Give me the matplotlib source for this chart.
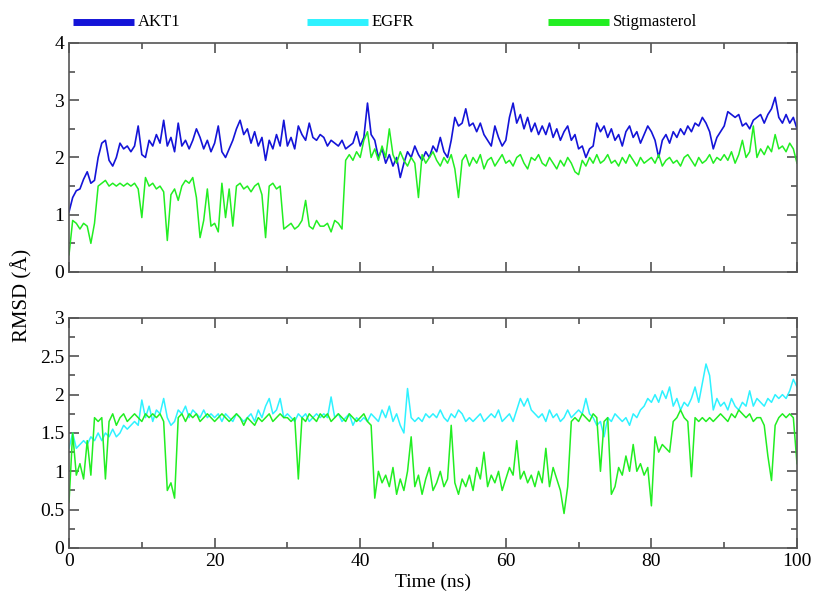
import numpy as np
import matplotlib
matplotlib.use("Agg")
import matplotlib.pyplot as plt
from matplotlib.lines import Line2D
from matplotlib.ticker import MultipleLocator

plt.rcParams['font.family'] = ['Liberation Serif', 'DejaVu Serif']

# time axis, one sample every 0.5 ns
time_ns = np.arange(0, 100.5, 0.5)

# top panel: AKT1 complex
akt1 = [
    1.05, 1.3, 1.42, 1.45, 1.62, 1.75, 1.55, 1.6, 2.0, 2.25,
    2.3, 1.95, 1.85, 2.0, 2.25, 2.15, 2.2, 2.1, 2.2, 2.55,
    2.05, 2.0, 2.3, 2.2, 2.4, 2.25, 2.65, 2.2, 2.35, 2.1,
    2.6, 2.2, 2.3, 2.15, 2.3, 2.5, 2.35, 2.15, 2.3, 2.1,
    2.25, 2.55, 2.1, 2.0, 2.15, 2.3, 2.5, 2.65, 2.4, 2.5,
    2.25, 2.45, 2.2, 2.35, 1.95, 2.3, 2.15, 2.4, 2.2, 2.65,
    2.2, 2.35, 2.15, 2.55, 2.4, 2.3, 2.6, 2.35, 2.3, 2.4,
    2.35, 2.2, 2.3, 2.25, 2.2, 2.3, 2.15, 2.2, 2.25, 2.45,
    2.2, 2.35, 2.95, 2.4, 2.3, 2.0, 2.15, 1.9, 2.05, 1.85,
    2.0, 1.65, 1.9, 2.1, 2.0, 2.2, 2.05, 1.95, 2.1, 2.0,
    2.2, 2.1, 2.35, 2.1, 2.0, 2.3, 2.7, 2.55, 2.6, 2.85,
    2.55, 2.6, 2.45, 2.6, 2.4, 2.3, 2.2, 2.55, 2.35, 2.2,
    2.3, 2.7, 2.95, 2.6, 2.75, 2.5, 2.7, 2.45, 2.6, 2.4,
    2.55, 2.4, 2.6, 2.35, 2.5, 2.3, 2.45, 2.55, 2.3, 2.4,
    2.15, 2.2, 2.0, 2.15, 2.2, 2.6, 2.45, 2.55, 2.35, 2.5,
    2.3, 2.4, 2.2, 2.45, 2.55, 2.35, 2.45, 2.25, 2.4, 2.55,
    2.45, 2.3, 2.0, 2.3, 2.4, 2.25, 2.45, 2.35, 2.5, 2.4,
    2.55, 2.45, 2.6, 2.55, 2.7, 2.6, 2.45, 2.15, 2.35, 2.45,
    2.55, 2.8, 2.75, 2.7, 2.75, 2.55, 2.6, 2.5, 2.65, 2.7,
    2.75, 2.6, 2.75, 2.85, 3.05, 2.7, 2.6, 2.75, 2.6, 2.7,
    2.5,
]
stig_akt1 = [
    0.3, 0.9, 0.85, 0.75, 0.85, 0.8, 0.5, 0.85, 1.5, 1.55,
    1.6, 1.5, 1.55, 1.5, 1.55, 1.5, 1.55, 1.5, 1.55, 1.45,
    0.95, 1.65, 1.5, 1.55, 1.45, 1.5, 1.4, 0.55, 1.35, 1.45,
    1.25, 1.5, 1.6, 1.55, 1.65, 1.3, 0.6, 0.9, 1.45, 0.8,
    0.85, 0.7, 1.55, 0.95, 1.45, 0.8, 1.5, 1.55, 1.45, 1.5,
    1.4, 1.5, 1.55, 1.35, 0.6, 1.5, 1.55, 1.45, 1.5, 0.75,
    0.8, 0.85, 0.75, 0.8, 0.9, 1.25, 0.8, 0.75, 0.9, 0.8,
    0.8, 0.85, 0.7, 0.9, 0.85, 0.75, 1.95, 2.05, 1.95, 2.1,
    2.0, 2.3, 2.45, 2.0, 2.15, 1.95, 2.2, 2.0, 2.5, 2.05,
    1.9, 2.1, 1.95, 1.85, 2.0, 1.9, 1.3, 2.05, 1.9, 2.0,
    2.1, 1.95, 1.85, 2.0, 1.9, 2.05, 1.8, 1.3, 1.95, 2.05,
    1.85, 2.0, 1.9, 2.05, 1.8, 1.95, 2.0, 1.85, 1.95, 2.05,
    1.9, 1.95, 1.85, 2.0, 2.05, 1.9, 1.8, 2.0, 1.95, 2.05,
    1.9, 1.85, 2.0, 1.9, 1.8, 1.95, 1.85, 2.0, 1.9, 1.75,
    1.7, 1.95, 1.85, 2.0, 1.9, 2.05, 1.9, 1.95, 2.05, 1.9,
    1.95, 1.85, 2.0, 1.9, 2.05, 1.95, 1.85, 2.0, 1.9, 1.95,
    2.0, 1.9, 2.05, 1.85, 1.95, 2.0, 1.9, 1.95, 1.85, 2.0,
    2.05, 1.95, 1.85, 2.0, 1.9, 1.95, 2.05, 1.9, 2.0, 1.95,
    2.05, 1.95, 2.1, 1.9, 2.05, 2.3, 2.0, 2.1, 2.55, 2.0,
    2.15, 2.05, 2.2, 2.1, 2.4, 2.15, 2.2, 2.1, 2.25, 2.15,
    1.9,
]

# bottom panel: EGFR complex
egfr = [
    1.3, 1.5, 1.3, 1.35, 1.4, 1.35, 1.45, 1.4, 1.5, 1.4,
    1.5, 1.45, 1.55, 1.45, 1.5, 1.6, 1.55, 1.6, 1.65, 1.6,
    1.93, 1.7, 1.85, 1.65, 1.8, 1.75, 1.95, 1.7, 1.6, 1.65,
    1.8, 1.75, 1.85, 1.7, 1.8, 1.75, 1.7, 1.8, 1.7, 1.75,
    1.7, 1.75, 1.65, 1.75, 1.7, 1.65, 1.75, 1.7, 1.65, 1.7,
    1.75, 1.65, 1.8, 1.7, 1.85, 1.95, 1.75, 1.8, 1.95, 1.7,
    1.75, 1.7, 1.65, 1.75, 1.7, 1.75, 1.65, 1.7, 1.75, 1.7,
    1.75, 1.7, 1.97, 1.7, 1.75, 1.65, 1.7, 1.75, 1.6, 1.7,
    1.65, 1.7, 1.65, 1.75, 1.7, 1.65, 1.8, 1.7, 1.85, 1.65,
    1.75, 1.6, 1.5, 2.08, 1.7, 1.65, 1.7, 1.65, 1.75, 1.7,
    1.75, 1.7, 1.8, 1.7, 1.65, 1.75, 1.7, 1.8, 1.75, 1.65,
    1.7, 1.65, 1.7, 1.75, 1.65, 1.7, 1.75, 1.7, 1.8, 1.65,
    1.7, 1.75, 1.65, 1.8, 1.95, 1.85, 1.95, 1.8, 1.75, 1.7,
    1.75, 1.65, 1.8, 1.7, 1.75, 1.65, 1.7, 1.8, 1.7, 1.75,
    1.8, 1.75, 1.95, 1.75, 1.7, 1.6, 1.65, 1.45, 1.7, 1.65,
    1.75, 1.7, 1.65, 1.7, 1.6, 1.75, 1.7, 1.8, 1.85, 1.95,
    1.9, 2.0, 1.9, 2.05, 1.95, 2.1, 1.85, 1.95, 1.8, 1.9,
    1.85, 1.95, 2.1, 1.9, 2.15, 2.4, 2.25, 1.8, 1.95, 1.85,
    1.9, 1.8, 1.95, 1.85, 1.8, 1.9, 1.85, 2.05, 1.85, 1.95,
    1.9, 1.85, 1.95, 1.9, 2.0, 1.95, 2.0, 1.95, 2.05, 2.2,
    2.1,
]
stig_egfr = [
    0.6, 1.5, 0.95, 1.1, 0.9, 1.4, 0.95, 1.7, 1.65, 1.7,
    0.9, 1.65, 1.75, 1.6, 1.7, 1.75, 1.65, 1.7, 1.75, 1.7,
    1.65, 1.75, 1.7, 1.75, 1.7, 1.75, 1.65, 0.75, 0.85, 0.65,
    1.7, 1.75, 1.65, 1.75, 1.7, 1.75, 1.65, 1.7, 1.75, 1.7,
    1.65, 1.7, 1.75, 1.7, 1.65, 1.7, 1.75, 1.7, 1.6, 1.7,
    1.65, 1.6, 1.7, 1.65, 1.7, 1.75, 1.65, 1.7, 1.75, 1.7,
    1.7, 1.65, 1.7, 0.9, 1.7, 1.65, 1.75, 1.7, 1.65, 1.75,
    1.7, 1.75, 1.65, 1.7, 1.75, 1.7, 1.65, 1.75, 1.7, 1.65,
    1.7, 1.75, 1.65, 1.6, 0.65, 1.0, 0.85, 0.95, 0.8, 1.05,
    0.7, 0.9, 0.75, 1.0, 1.45, 0.8, 0.95, 0.7, 0.9, 1.05,
    0.75, 0.85, 1.0, 0.8, 0.9, 1.6, 0.85, 0.7, 0.9, 0.8,
    0.95, 0.75, 1.05, 0.9, 1.25, 0.8, 0.95, 0.85, 1.0, 0.75,
    0.9, 1.05, 0.95, 1.4, 0.9, 1.0, 0.85, 0.95, 0.8, 1.0,
    0.85, 1.3, 0.8, 1.05, 0.9, 0.75, 0.45, 0.8, 1.65, 1.7,
    1.65, 1.75, 1.7, 1.65, 1.75, 1.7, 1.0, 1.65, 1.7, 0.7,
    0.8, 1.05, 0.95, 1.2, 1.0, 1.35, 1.0, 1.1, 0.95, 1.05,
    0.55, 1.45, 1.25, 1.35, 1.3, 1.25, 1.65, 1.7, 1.8, 1.7,
    1.65, 0.93, 1.7, 1.65, 1.7, 1.65, 1.7, 1.65, 1.7, 1.75,
    1.7, 1.65, 1.75, 1.7, 1.8, 1.75, 1.7, 1.75, 1.65, 1.7,
    1.7, 1.6, 1.2, 0.88, 1.6, 1.7, 1.75, 1.7, 1.75, 1.7,
    1.1,
]

c_akt1 = '#1414d8'
c_egfr = '#2ef2ff'
c_stig = '#22ee22'

fig = plt.figure(figsize=(8.14, 5.95), dpi=100)
ax1 = fig.add_axes([0.0848, 0.5429, 0.8943, 0.3849])
ax2 = fig.add_axes([0.0848, 0.0790, 0.8943, 0.3866])

ax1.plot(time_ns, akt1, color=c_akt1, lw=1.2)
ax1.plot(time_ns, stig_akt1, color=c_stig, lw=1.1)
ax2.plot(time_ns, egfr, color=c_egfr, lw=1.1)
ax2.plot(time_ns, stig_egfr, color=c_stig, lw=1.1)

for ax in (ax1, ax2):
    ax.set_xlim(0, 100)
    ax.xaxis.set_major_locator(MultipleLocator(20))
    ax.xaxis.set_minor_locator(MultipleLocator(10))
    ax.tick_params(which='both', direction='in', top=True, right=True,
                   color='#444444', labelsize=14)
    ax.tick_params(which='major', length=7, width=1.1)
    ax.tick_params(which='minor', length=4, width=1.1)
    for s in ax.spines.values():
        s.set_color('#555555')
        s.set_linewidth(1.2)

ax1.set_ylim(0, 4)
ax1.yaxis.set_major_locator(MultipleLocator(1))
ax1.yaxis.set_minor_locator(MultipleLocator(0.5))
ax1.tick_params(labelbottom=False)

ax2.set_ylim(0, 3)
ax2.yaxis.set_minor_locator(MultipleLocator(0.25))
ax2.set_yticks(np.arange(0, 3.01, 0.5))
ax2.set_yticklabels(['0', '0.5', '1', '1.5', '2', '2.5', '3'])
ax2.set_xlabel('Time (ns)', fontsize=14, labelpad=3)

fig.text(0.027, 0.504, 'RMSD (\u00c5)', rotation=90, fontsize=15,
         ha='center', va='center')

# legend drawn across the top
names = ['AKT1', 'EGFR', 'Stigmasterol']
colors = [c_akt1, c_egfr, c_stig]
starts = [73, 307, 548]
for name, col, x0 in zip(names, colors, starts):
    fig.add_artist(Line2D([x0 / 814, (x0 + 61) / 814], [1 - 22 / 595] * 2,
                          color=col, lw=5, solid_capstyle='butt',
                          transform=fig.transFigure))
    fig.text((x0 + 65) / 814, 1 - 22 / 595, name, fontsize=12,
             ha='left', va='center')

fig.savefig('out.png', dpi=100)
